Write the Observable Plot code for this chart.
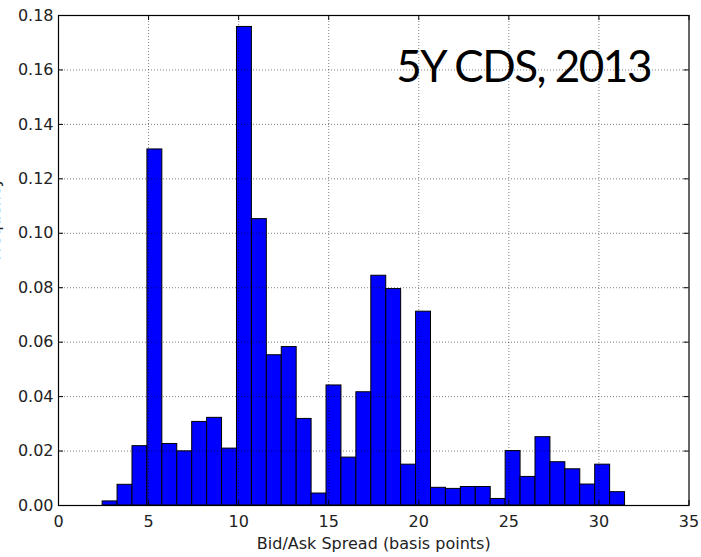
<!DOCTYPE html>
<html>
<head>
<meta charset="utf-8">
<script src="https://cdn.jsdelivr.net/npm/d3@7"></script>
<script src="https://cdn.jsdelivr.net/npm/@observablehq/plot@0.6"></script>
<style>
  html, body { margin: 0; padding: 0; background: white; }
  #chart svg { display: block; }
</style>
</head>
<body>
<div id="chart"></div>
<script>
// Histogram of 5Y CDS bid/ask spreads (basis points), 2013
const binStart = 2.45;
const binEnd = 31.45;
const frequencies = [
  0.0015, 0.0076, 0.0218, 0.1308, 0.0226, 0.0199, 0.0307, 0.0322, 0.0209,
  0.1758, 0.1052, 0.0552, 0.0582, 0.0318, 0.0044, 0.0441, 0.0176, 0.0416,
  0.0844, 0.0795, 0.0150, 0.0712, 0.0065, 0.0061, 0.0068, 0.0068, 0.0024,
  0.0200, 0.0105, 0.0251, 0.0159, 0.0133, 0.0077, 0.0150, 0.0049
];
const xTicks = [0, 5, 10, 15, 20, 25, 30, 35];
const yTicks = [0, 0.02, 0.04, 0.06, 0.08, 0.10, 0.12, 0.14, 0.16, 0.18];
const xLabel = "Bid/Ask Spread (basis points)";
const yLabel = "Frequency";
const annotation = ["5Y CDS, 2013"];

const binWidth = (binEnd - binStart) / frequencies.length;
const bars = frequencies.map((v, i) => ({
  x1: binStart + i * binWidth,
  x2: binStart + (i + 1) * binWidth,
  v
}));

const W = 701, H = 557;
const mL = 58, mR = 12.5, mT = 15, mB = 52;
const plotW = W - mL - mR, plotH = H - mT - mB;
const tickLen = 5;
const font = "DejaVu Sans";

const chart = Plot.plot({
  width: W,
  height: H,
  marginLeft: mL,
  marginRight: mR,
  marginTop: mT,
  marginBottom: mB,
  style: { fontFamily: font, color: "#222", background: "white" },
  x: { domain: [0, 35] },
  y: { domain: [0, 0.18] },
  marks: [
    Plot.rectY(bars, { x1: "x1", x2: "x2", y: "v", fill: "#0000ff", stroke: "black", strokeWidth: 1 }),
    Plot.gridX(xTicks.slice(1, -1), { stroke: "black", strokeOpacity: 0.5, strokeDasharray: "1,2", strokeWidth: 1 }),
    Plot.gridY(yTicks.slice(1, -1), { stroke: "black", strokeOpacity: 0.5, strokeDasharray: "1,2", strokeWidth: 1 }),
    // inward ticks on all four sides
    Plot.tickX(xTicks, { x: d => d, insetTop: plotH - tickLen, stroke: "black" }),
    Plot.tickX(xTicks, { x: d => d, insetBottom: plotH - tickLen, stroke: "black" }),
    Plot.tickY(yTicks, { y: d => d, insetRight: plotW - tickLen, stroke: "black" }),
    Plot.tickY(yTicks, { y: d => d, insetLeft: plotW - tickLen, stroke: "black" }),
    Plot.axisX(xTicks, { tickSize: 0, tickPadding: 10, fontSize: 16, tickFormat: d => String(d), label: null }),
    Plot.axisY(yTicks, { tickSize: 0, tickPadding: 5, fontSize: 16, tickFormat: d3.format(".2f"), label: null }),
    Plot.text([xLabel], { frameAnchor: "bottom", dy: 43, lineAnchor: "bottom", fontSize: 16, fill: "#222", text: d => d }),
    Plot.text([yLabel], { frameAnchor: "left", dx: -58.5, rotate: -90, lineAnchor: "bottom", fontSize: 16, fill: "#222", text: d => d }),
    Plot.text(annotation, { x: 25.82, y: 0.1554, text: d => d, textAnchor: "middle", lineAnchor: "bottom", fontFamily: "Lato", fontSize: 44, fill: "black" }),
    Plot.frame({ stroke: "black", strokeWidth: 1.2 })
  ]
});

d3.select(chart).selectAll("text")
  .filter(function () { return this.textContent === annotation[0]; })
  .style("letter-spacing", "-1.5px");

document.getElementById("chart").appendChild(chart);
</script>
</body>
</html>
